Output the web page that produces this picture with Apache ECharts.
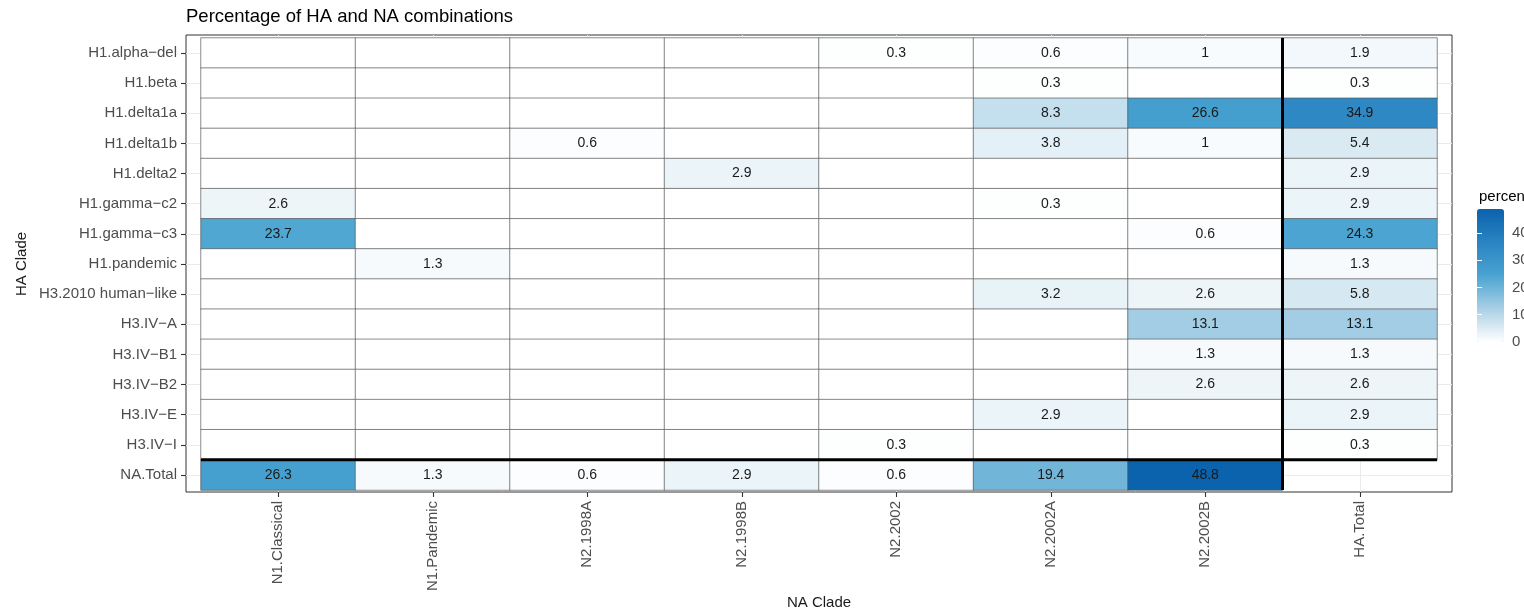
<!DOCTYPE html>
<html>
<head>
<meta charset="utf-8">
<script src="https://cdn.jsdelivr.net/npm/echarts@6/dist/echarts.min.js"></script>
<style>
html,body{margin:0;padding:0;background:#fff;}
#chart{width:1524px;height:610px;}
</style>
</head>
<body>
<div id="chart"></div>
<script>
// ---- data ----
const naClades = ['N1.Classical','N1.Pandemic','N2.1998A','N2.1998B','N2.2002','N2.2002A','N2.2002B','HA.Total'];
const haClades = ['H1.alpha\u2212del','H1.beta','H1.delta1a','H1.delta1b','H1.delta2','H1.gamma\u2212c2','H1.gamma\u2212c3','H1.pandemic','H3.2010 human\u2212like','H3.IV\u2212A','H3.IV\u2212B1','H3.IV\u2212B2','H3.IV\u2212E','H3.IV\u2212I','NA.Total'];
// one row per HA clade, values in the order of naClades (null = no tile)
const rowAlphaDel   = [0, 0, 0, 0, 0.3, 0.6, 1, 1.9];
const rowBeta       = [0, 0, 0, 0, 0, 0.3, 0, 0.3];
const rowDelta1a    = [0, 0, 0, 0, 0, 8.3, 26.6, 34.9];
const rowDelta1b    = [0, 0, 0.6, 0, 0, 3.8, 1, 5.4];
const rowDelta2     = [0, 0, 0, 2.9, 0, 0, 0, 2.9];
const rowGammaC2    = [2.6, 0, 0, 0, 0, 0.3, 0, 2.9];
const rowGammaC3    = [23.7, 0, 0, 0, 0, 0, 0.6, 24.3];
const rowPandemic   = [0, 1.3, 0, 0, 0, 0, 0, 1.3];
const rowH3Human    = [0, 0, 0, 0, 0, 3.2, 2.6, 5.8];
const rowIVA        = [0, 0, 0, 0, 0, 0, 13.1, 13.1];
const rowIVB1       = [0, 0, 0, 0, 0, 0, 1.3, 1.3];
const rowIVB2       = [0, 0, 0, 0, 0, 0, 2.6, 2.6];
const rowIVE        = [0, 0, 0, 0, 0, 2.9, 0, 2.9];
const rowIVI        = [0, 0, 0, 0, 0.3, 0, 0, 0.3];
const rowNATotal    = [26.3, 1.3, 0.6, 2.9, 0.6, 19.4, 48.8, null];
const rows = [rowAlphaDel,rowBeta,rowDelta1a,rowDelta1b,rowDelta2,rowGammaC2,rowGammaC3,rowPandemic,rowH3Human,rowIVA,rowIVB1,rowIVB2,rowIVE,rowIVI,rowNATotal];
const colorMax = 48.8;
const legendTicks = [0, 10, 20, 30, 40];

// ---- build ----
const heatData = [];
rows.forEach((r, yi) => r.forEach((v, xi) => { if (v !== null) heatData.push([xi, yi, v]); }));
const lastNA = naClades.length - 1;   // boundary before HA.Total column
const lastHA = haClades.length - 1;   // boundary before NA.Total row

const font = 'Liberation Sans, Arial, sans-serif';
const chart = echarts.init(document.getElementById('chart'));
const hidden = { show: false };
const hiddenValue = (grid, extra) => Object.assign({ type: 'value', gridIndex: grid, show: false, axisLine: hidden, axisTick: hidden, axisLabel: hidden, splitLine: hidden }, extra || {});
const g = o => Object.assign({ containLabel: false, outerBoundsMode: 'none' }, o);

chart.setOption({
  backgroundColor: '#ffffff',
  animation: false,
  textStyle: { fontFamily: font },
  title: [
    { text: 'Percentage of HA and NA combinations', left: 186, top: 7, padding: 0,
      textStyle: { fontSize: 18.5, fontWeight: 'normal', color: '#000', fontFamily: font } },
    { text: 'percentage', left: 1479, top: 189, padding: 0,
      textStyle: { fontSize: 15, fontWeight: 'normal', color: '#000', fontFamily: font } }
  ],
  grid: [
    g({ left: 201, top: 38, width: 1236, height: 452 }),                               // 0 tiles
    g({ left: 186, top: 35, width: 1266, height: 457, show: true, borderColor: '#333', borderWidth: 1, backgroundColor: 'transparent' }), // 1 panel
    g({ left: 278.25, top: 35, width: 1081.5, height: 457 }),                           // 2 vertical grid lines
    g({ left: 186, top: 53.07, width: 1266, height: 421.87 }),                          // 3 horizontal grid lines
    g({ left: 201, top: 38, width: 1236, height: 452 }),                               // 4 divider overlay
    g({ left: 1477, top: 209, width: 27, height: 133 })                                 // 5 legend axis
  ],
  xAxis: [
    { type: 'category', gridIndex: 0, data: naClades, position: 'bottom', offset: 2,
      axisLine: { show: false },
      axisTick: { show: true, alignWithLabel: true, length: 5, lineStyle: { color: '#333', width: 1.1 } },
      axisLabel: { rotate: 90, margin: 9, interval: 0, fontSize: 15, color: '#4d4d4d', fontFamily: font },
      splitLine: hidden,
      name: 'NA Clade', nameLocation: 'middle', nameGap: 103, nameMoveOverlap: false,
      nameTextStyle: { fontSize: 15, color: '#1a1a1a', fontFamily: font } },
    hiddenValue(1, { min: 0, max: 1 }),
    { type: 'category', gridIndex: 2, data: naClades, boundaryGap: false,
      axisLine: hidden, axisTick: hidden, axisLabel: hidden,
      splitLine: { show: true, interval: 0, lineStyle: { color: '#ebebeb', width: 1 } } },
    hiddenValue(3, { min: 0, max: 1 }),
    hiddenValue(4, { min: 0, max: naClades.length }),
    hiddenValue(5, { min: 0, max: 1 })
  ],
  yAxis: [
    { type: 'category', gridIndex: 0, data: haClades, inverse: true, offset: 15,
      axisLine: { show: false },
      axisTick: { show: true, alignWithLabel: true, length: 5, lineStyle: { color: '#333', width: 1.1 } },
      axisLabel: { margin: 9, interval: 0, fontSize: 15, color: '#4d4d4d', fontFamily: font },
      splitLine: hidden,
      name: 'HA Clade', nameLocation: 'middle', nameGap: 157, nameRotate: 90, nameMoveOverlap: false,
      nameTextStyle: { fontSize: 15, color: '#1a1a1a', fontFamily: font } },
    hiddenValue(1, { min: 0, max: 1 }),
    hiddenValue(2, { min: 0, max: 1 }),
    { type: 'category', gridIndex: 3, data: haClades, boundaryGap: false, inverse: true,
      axisLine: hidden, axisTick: hidden, axisLabel: hidden,
      splitLine: { show: true, interval: 0, lineStyle: { color: '#ebebeb', width: 1 } } },
    hiddenValue(4, { min: 0, max: haClades.length, inverse: true }),
    { type: 'value', gridIndex: 5, position: 'right', min: 0, max: colorMax, z: 10,
      axisLine: hidden, splitLine: hidden,
      axisTick: { show: true, inside: true, length: 5, customValues: legendTicks, lineStyle: { color: '#fff', width: 1 } },
      axisLabel: { show: true, margin: 8, customValues: legendTicks, fontSize: 15, color: '#4d4d4d', fontFamily: font,
                   formatter: v => (legendTicks.indexOf(v) >= 0 ? String(v) : '') } },
    { type: 'value', gridIndex: 5, position: 'left', min: 0, max: colorMax, z: 10,
      axisLine: hidden, splitLine: hidden, axisLabel: hidden,
      axisTick: { show: true, inside: true, length: 5, customValues: legendTicks, lineStyle: { color: '#fff', width: 1 } } }
  ],
  visualMap: {
    type: 'continuous', seriesIndex: 0, min: 0, max: colorMax,
    left: 1477, top: 209, itemWidth: 27, itemHeight: 133, padding: 0,
    orient: 'vertical', calculable: false, hoverLink: false,
    inRange: { color: ['#ffffff', '#a9d0e5', '#4aa4d1', '#2a83c2', '#0b62ad'] },
    text: null
  },
  series: [
    { type: 'heatmap', xAxisIndex: 0, yAxisIndex: 0, data: heatData,
      itemStyle: { borderColor: '#5a5a5a', borderWidth: 0.7 },
      label: { show: true, fontSize: 14, color: '#1a1a1a', fontFamily: font,
               formatter: p => (p.value[2] ? String(p.value[2]) : '') },
      emphasis: { disabled: true } },
    { type: 'line', xAxisIndex: 4, yAxisIndex: 4, symbol: 'none', silent: true, z: 5,
      lineStyle: { color: '#000', width: 3 },
      data: [[lastNA, 0], [lastNA, haClades.length]] },
    { type: 'line', xAxisIndex: 4, yAxisIndex: 4, symbol: 'none', silent: true, z: 5,
      lineStyle: { color: '#000', width: 3 },
      data: [[0, lastHA], [naClades.length, lastHA]] }
  ]
});
</script>
</body>
</html>
